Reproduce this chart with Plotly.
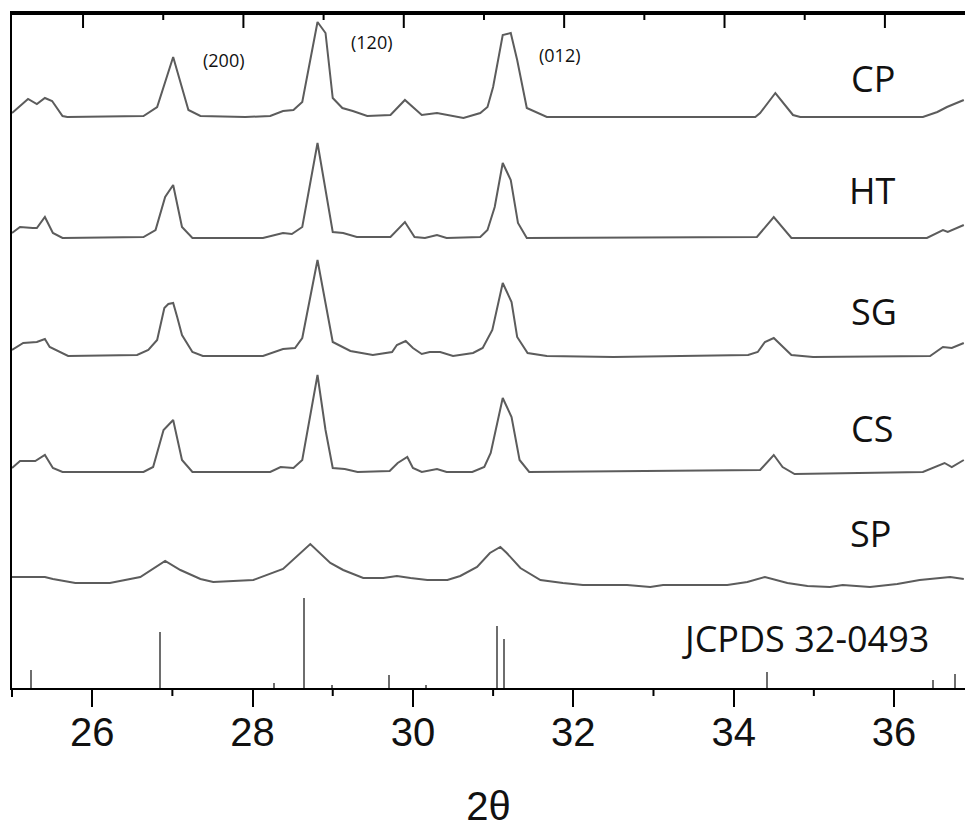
import plotly.graph_objects as go

# ---- XRD patterns (2-theta in degrees, intensity in arbitrary units) ----
CP_2THETA = [25.0, 25.2, 25.31, 25.41, 25.5, 25.63, 25.69, 26.64, 26.81, 27.01, 27.2, 27.35, 27.91,
             28.22, 28.38, 28.51, 28.62, 28.81, 28.91, 29.0, 29.12, 29.25, 29.43, 29.72, 29.9, 30.11,
             30.3, 30.63, 30.84, 30.93, 31.0, 31.12, 31.22, 31.3, 31.42, 31.67, 34.27, 34.33, 34.52,
             34.74, 34.83, 36.36, 36.54, 36.66, 36.87]
CP_COUNTS = [4, 18, 13, 19, 16, 1, 0, 1, 10, 60, 7, 1, 0,
             1, 6, 7, 15, 95, 84, 19, 9, 6, 1, 2, 17, 2,
             4, -1, 4, 10, 30, 82, 84, 57, 9, 0, 0, 4, 24,
             2, 0, 0, 5, 10, 17]

HT_2THETA = [25.0, 25.1, 25.26, 25.31, 25.41, 25.51, 25.63, 26.64, 26.79, 26.91, 27.01, 27.12, 27.25,
             28.13, 28.38, 28.49, 28.62, 28.81, 29.0, 29.13, 29.3, 29.72, 29.9, 30.02, 30.15, 30.3,
             30.42, 30.84, 30.93, 31.02, 31.12, 31.22, 31.31, 31.42, 34.29, 34.5, 34.72, 36.41,
             36.61, 36.67, 36.87]
HT_COUNTS = [5, 11, 10, 10, 21, 5, 0, 1, 8, 41, 53, 11, 0,
             0, 5, 4, 11, 95, 6, 5, 1, 1, 16, 1, 0, 3,
             0, 1, 8, 31, 75, 58, 15, 0, 1, 21, 0, 0,
             8, 6, 13]

SG_2THETA = [25.0, 25.14, 25.31, 25.41, 25.47, 25.63, 25.7, 26.56, 26.7, 26.81, 26.9, 26.95, 27.01,
             27.06, 27.12, 27.25, 27.38, 28.13, 28.38, 28.53, 28.62, 28.81, 29.0, 29.22, 29.5, 29.74,
             29.8, 29.91, 30.0, 30.11, 30.21, 30.34, 30.5, 30.75, 30.87, 30.99, 31.12, 31.23, 31.3,
             31.43, 31.67, 32.5, 34.18, 34.3, 34.39, 34.5, 34.55, 34.72, 34.99, 36.45, 36.61, 36.72,
             36.87]
SG_COUNTS = [6, 13, 14, 17, 9, 3, 0, 1, 6, 16, 48, 52, 53,
             39, 21, 4, 0, 0, 7, 8, 18, 96, 14, 5, 1, 4,
             11, 15, 8, 2, 4, 4, 0, 3, 8, 26, 73, 54, 19,
             3, 0, -1, 1, 4, 14, 18, 14, 1, -1, 0, 9, 8,
             13]

CS_2THETA = [25.0, 25.1, 25.29, 25.41, 25.51, 25.63, 26.64, 26.76, 26.89, 27.01, 27.12, 27.25, 28.22,
             28.35, 28.51, 28.62, 28.81, 28.91, 29.0, 29.15, 29.31, 29.71, 29.81, 29.93, 30.0, 30.11,
             30.3, 30.42, 30.74, 30.89, 30.97, 31.12, 31.23, 31.33, 31.45, 34.33, 34.5, 34.61, 34.76,
             36.36, 36.63, 36.72, 36.87]
CS_COUNTS = [5, 12, 12, 18, 5, 1, 1, 6, 43, 53, 13, 1, 1,
             6, 5, 13, 98, 43, 5, 4, 1, 2, 10, 16, 5, 1,
             4, 1, 1, 6, 20, 75, 56, 13, 1, 3, 18, 6, -1,
             1, 10, 6, 13]

SP_2THETA = [25.0, 25.41, 25.51, 25.79, 26.22, 26.6, 26.91, 27.1, 27.35, 27.51, 28.01, 28.38, 28.72,
             28.84, 28.97, 29.13, 29.38, 29.63, 29.8, 29.97, 30.18, 30.43, 30.59, 30.8, 30.96, 31.09,
             31.17, 31.34, 31.59, 31.87, 32.12, 32.67, 32.96, 33.12, 33.92, 34.17, 34.39, 34.67,
             34.92, 35.2, 35.36, 35.7, 36.04, 36.32, 36.7, 36.87]
SP_COUNTS = [10, 10, 8, 4, 4, 10, 26, 17, 8, 5, 7, 18, 43,
             34, 24, 17, 9, 9, 11, 9, 7, 7, 11, 20, 34, 40,
             34, 19, 7, 4, 2, 2, 0, 2, 2, 5, 10, 4,
             1, 0, 2, 0, 3, 7, 10, 8]

# Reference stick pattern, JCPDS 32-0493
JCPDS_2THETA = [25.24, 26.84, 28.27, 28.64, 28.99, 29.70, 30.16, 31.05, 31.14, 34.42, 36.49, 36.76]
JCPDS_INTENSITY = [18, 56, 5, 90, 3, 13, 3, 62, 49, 16, 8, 14]

SAMPLES = ["CP", "HT", "SG", "CS", "SP"]
OFFSETS = [571, 450, 332, 215, 101]   # vertical stacking offsets

MILLER_LABELS = ["(200)", "(120)", "(012)"]
MILLER_POS = [(27.65, 628), (29.49, 646), (31.84, 633)]

X_TICKS = [26, 28, 30, 32, 34, 36]
X_MINOR_TICKS = [25, 27, 29, 31, 33, 35]

X_RANGE = [25.0, 36.885]
Y_RANGE = [0, 675]
PLOT_H = 675                    # plot-area height in px (1 y-unit = 1 px)
TOP_TICK_SHIFT = 0.114          # top frame ticks sit slightly left of the bottom ones
LINE_COLOR = "#5c5c5c"
STICK_COLOR = "#6e6e6e"
LABEL_FONT = "Open Sans"
AXIS_FONT = "Liberation Sans, Arial, sans-serif"

patterns = {
    "CP": (CP_2THETA, CP_COUNTS),
    "HT": (HT_2THETA, HT_COUNTS),
    "SG": (SG_2THETA, SG_COUNTS),
    "CS": (CS_2THETA, CS_COUNTS),
    "SP": (SP_2THETA, SP_COUNTS),
}

fig = go.Figure()

for name, offset in zip(SAMPLES, OFFSETS):
    tt, counts = patterns[name]
    fig.add_trace(go.Scatter(
        x=tt, y=[c + offset for c in counts], mode="lines", name=name,
        line=dict(color=LINE_COLOR, width=2), showlegend=False,
    ))

fig.add_trace(go.Bar(
    x=JCPDS_2THETA, y=JCPDS_INTENSITY, width=0.025, name="JCPDS 32-0493",
    marker=dict(color=STICK_COLOR, line=dict(width=0)), showlegend=False,
))

# top frame: a line along the upper edge with inward ticks (long at even degrees)
top = Y_RANGE[1]
frame_x, frame_y = [X_RANGE[0], X_RANGE[1], None], [top - 1, top - 1, None]
for deg in sorted(X_TICKS + X_MINOR_TICKS + [37]):
    xpos = deg - TOP_TICK_SHIFT
    if X_RANGE[0] <= xpos <= X_RANGE[1]:
        frame_x += [xpos, xpos, None]
        frame_y += [top, top - (15 if deg % 2 == 0 else 7), None]
fig.add_trace(go.Scatter(x=frame_x, y=frame_y, mode="lines", name="frame",
                         line=dict(color="black", width=2), showlegend=False, hoverinfo="skip"))

# sample labels on the right
label_pos = {"CP": (35.74, 610), "HT": (35.73, 498), "SG": (35.75, 377),
             "CS": (35.73, 260), "SP": (35.71, 155)}
annotations = []
for name in SAMPLES:
    x, y = label_pos[name]
    annotations.append(dict(x=x, y=y, text=name, showarrow=False, xanchor="center", yanchor="middle",
                            font=dict(family=LABEL_FONT, size=36, color="#111111")))
annotations.append(dict(x=34.89, y=50, text="JCPDS 32-0493", showarrow=False,
                        xanchor="center", yanchor="middle",
                        font=dict(family=LABEL_FONT, size=36, color="#111111")))
for txt, (x, y) in zip(MILLER_LABELS, MILLER_POS):
    annotations.append(dict(x=x, y=y, text=txt, showarrow=False, xanchor="center", yanchor="middle",
                            font=dict(family=LABEL_FONT, size=18, color="#111111")))

shapes = []
# minor ticks under the bottom axis
for deg in X_MINOR_TICKS:
    if X_RANGE[0] < deg < X_RANGE[1]:
        shapes.append(dict(type="line", xref="x", yref="paper", x0=deg, x1=deg,
                           y0=0, y1=-8 / PLOT_H, line=dict(color="black", width=2)))
# left frame line continues a little below the bottom axis
shapes.append(dict(type="line", xref="paper", yref="paper", x0=0, x1=0, y0=-9 / PLOT_H, y1=0,
                   line=dict(color="black", width=2)))

fig.update_layout(
    width=965, height=828,
    margin=dict(l=12, r=0, t=13, b=140),
    paper_bgcolor="white", plot_bgcolor="white",
    bargap=0,
    annotations=annotations,
    shapes=shapes,
    xaxis=dict(
        range=X_RANGE, showgrid=False, zeroline=False,
        showline=True, mirror=True, linecolor="black", linewidth=2,
        ticks="outside", ticklen=17, tickwidth=2, tickcolor="black",
        tickvals=X_TICKS, ticklabelstandoff=-9,
        tickfont=dict(family=AXIS_FONT, size=40, color="#111111"),
        title=dict(text="2θ", font=dict(family=AXIS_FONT, size=40, color="#111111"), standoff=44),
    ),
    yaxis=dict(
        range=Y_RANGE, showgrid=False, zeroline=False, showticklabels=False,
        showline=True, linecolor="black", linewidth=2,
    ),
)

fig.write_html("out.html")
